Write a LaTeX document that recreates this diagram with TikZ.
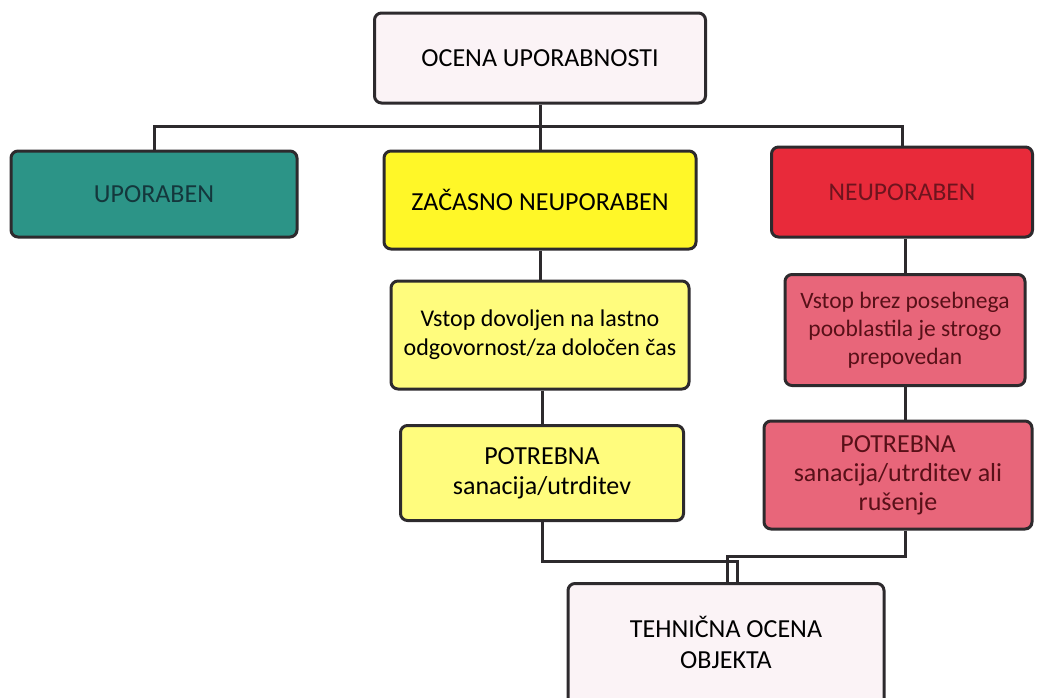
\documentclass[tikz,border=0pt]{standalone}
\usepackage{fontspec}
\setmainfont{Carlito}
\definecolor{bord}{RGB}{45,42,45}
\definecolor{teal1}{RGB}{44,148,135}
\definecolor{yel1}{RGB}{255,247,40}
\definecolor{red1}{RGB}{232,42,58}
\definecolor{yel2}{RGB}{255,252,125}
\definecolor{pink1}{RGB}{232,102,122}
\definecolor{white1}{RGB}{251,243,246}
\definecolor{darkred}{RGB}{110,20,30}
\definecolor{darkteal}{RGB}{20,55,60}
\tikzset{
  box/.style={draw=bord, line width=3pt, rounded corners=7pt, align=center, inner sep=0pt, font=\fontsize{26}{30}\selectfont},
  pinkbox/.style={box, fill=pink1, text=darkred!80!black, font=\fontsize{26}{29}\selectfont},
  conn/.style={draw=bord, line width=3pt},
}
\begin{document}
\begin{tikzpicture}[x=1pt,y=-1pt]
\useasboundingbox (0,0) rectangle (1038,697);
\node[box, fill=white1, minimum width=331pt, minimum height=90pt] (top) at (540,58) {OCENA UPORABNOSTI};
\node[box, fill=teal1, minimum width=286pt, minimum height=86pt, text=darkteal] (upo) at (154,194) {UPORABEN};
\node[box, fill=yel1, minimum width=312pt, minimum height=98pt] (zac) at (540,200) {ZAČASNO NEUPORABEN};
\node[box, fill=red1, minimum width=261pt, minimum height=90pt, text=darkred, font=\fontsize{25.5}{29}\selectfont] (neu) at (902,192) {NEUPORABEN};
\node[box, fill=yel2, minimum width=298pt, minimum height=108pt, font=\fontsize{24}{29}\selectfont] (vd) at (540,335) {Vstop dovoljen na lastno\\odgovornost/za določen čas};
\node[pinkbox, minimum width=240pt, minimum height=111pt, font=\fontsize{23.5}{28}\selectfont] (vb) at (905,330) {Vstop brez posebnega\\pooblastila je strogo\\prepovedan};
\node[box, fill=yel2, minimum width=283pt, minimum height=95pt] (py) at (542,473) {POTREBNA\\sanacija/utrditev};
\node[pinkbox, minimum width=268pt, minimum height=108pt] (pp) at (898,475) {POTREBNA\\sanacija/utrditev ali\\rušenje};
\node[box, fill=white1, minimum width=316pt, minimum height=124pt, anchor=north] (teh) at (726,582) {};
\node[font=\fontsize{26}{31}\selectfont, align=center] (tehl) at (726,642) {TEHNIČNA OCENA\\OBJEKTA};
\coordinate (bus) at (540,126);
\draw[conn] (top.south) -- (bus);
\draw[conn] (upo.north) |- (bus) -| (neu.north);
\draw[conn] (bus) -- (zac.north);
\draw[conn] (zac.south) -- (zac.south |- vd.north);
\draw[conn] (vd.south -| py.north) -- (py.north);
\draw[conn] (neu.south -| vb.north) -- (vb.north);
\draw[conn] (vb.south) -- (vb.south |- pp.north);
\coordinate (ja) at (737,561);
\coordinate (jb) at (727,556);
\draw[conn] (py.south) |- (ja) -- (ja |- teh.north);
\draw[conn] (pp.south -| vb.south) |- (jb) -- (jb |- teh.north);
\end{tikzpicture}
\end{document}
